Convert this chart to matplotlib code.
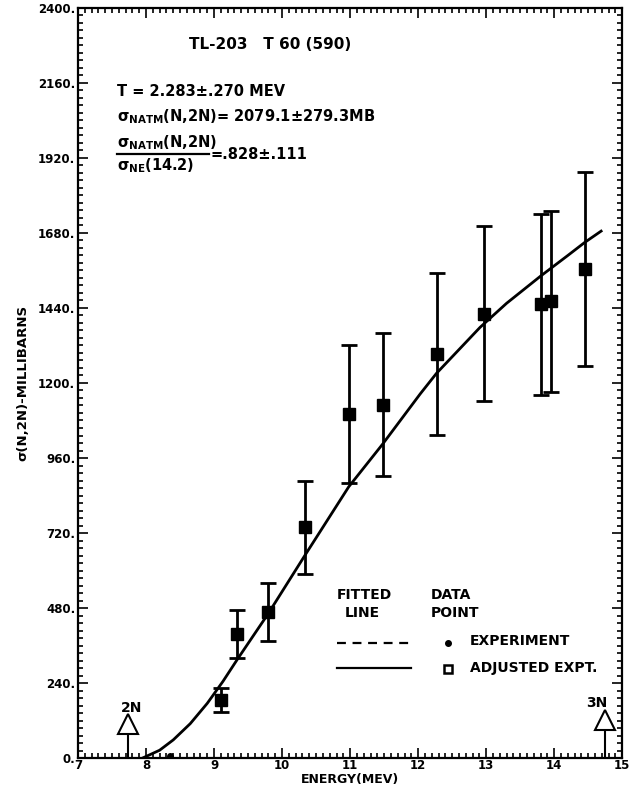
import numpy as np
import matplotlib
matplotlib.use("Agg")
import matplotlib.pyplot as plt
from matplotlib.ticker import MultipleLocator, FixedLocator
from matplotlib.lines import Line2D

plt.rcParams["font.family"] = ["DejaVu Sans"]
plt.rcParams["font.weight"] = "bold"
plt.rcParams["axes.labelweight"] = "bold"
plt.rcParams["mathtext.fontset"] = "dejavusans"
plt.rcParams["mathtext.default"] = "bf"

# ---- data ----
exp_energy = [9.10, 9.34, 9.79, 10.34, 10.98, 11.48, 12.27, 12.97, 13.80, 13.96, 14.45]
exp_sigma = [186, 397, 468, 738, 1101, 1130, 1293, 1421, 1452, 1461, 1565]
exp_err = [38, 77, 93, 150, 222, 229, 258, 280, 290, 290, 310]

fit_energy = [7.95, 8.2, 8.4, 8.65, 8.9, 9.13, 9.34, 9.79, 10.34, 10.98, 11.48,
              12.03, 12.27, 12.91, 13.3, 13.8, 14.2, 14.45, 14.69]
fit_sigma = [0, 25, 58, 110, 175, 245, 315, 460, 650, 868, 1005,
             1165, 1231, 1378, 1455, 1542, 1608, 1650, 1686]

thresh_energy = [7.73, 14.75]
thresh_label = ["2N", "3N"]
thresh_top = [128, 143]

y_ticks = [0, 240, 480, 720, 960, 1200, 1440, 1680, 1920, 2160, 2400]
x_ticks = [7, 8, 9, 10, 11, 12, 13, 14, 15]

# ---- figure ----
fig = plt.figure(figsize=(6.41, 7.96), dpi=100)
ax = fig.add_axes([0.1217, 0.0477, 0.849, 0.9423])
ax.set_xlim(7, 15)
ax.set_ylim(0, 2400)

# fitted line
ax.plot(fit_energy, fit_sigma, color="black", lw=2)

# experiment points
ax.errorbar(exp_energy, exp_sigma, yerr=exp_err, fmt="s", color="black",
            ms=8, elinewidth=2, capsize=6, capthick=2)
ax.plot([8.35], [8], marker="o", color="black", ms=4)

# threshold arrows
for e, lab, top in zip(thresh_energy, thresh_label, thresh_top):
    ax.plot([e, e], [0, top - 40], color="black", lw=1.5)
    ax.plot([e], [top - 20], marker="^", ms=14, mfc="white", mec="black", mew=1.5)
    dx = 0.05 if lab == "2N" else -0.12
    ax.text(e + dx, top + 10, lab, fontsize=10, ha="center", va="bottom")

# ticks
ax.xaxis.set_major_locator(FixedLocator(x_ticks))
ax.xaxis.set_minor_locator(MultipleLocator(0.1))
ax.yaxis.set_major_locator(FixedLocator(y_ticks))
ax.yaxis.set_minor_locator(MultipleLocator(24))
ax.set_xticklabels([str(t) for t in x_ticks], fontsize=8.5)
ax.set_yticklabels([f"{t}." for t in y_ticks], fontsize=8.5)
ax.tick_params(which="both", direction="in", top=True, right=True, width=1.2)
ax.tick_params(which="major", length=7, pad=2)
ax.tick_params(axis="x", which="major", pad=1)
ax.tick_params(which="minor", length=3.5)
for s in ax.spines.values():
    s.set_linewidth(1.6)

ax.set_xlabel("ENERGY(MEV)", fontsize=9, labelpad=0.5)
ax.set_ylabel("σ(N,2N)-MILLIBARNS", fontsize=9.5, labelpad=6)

# annotation block
ax.text(9.82, 2282, "TL-203   T 60 (590)", fontsize=11, ha="center", va="center")
ax.text(7.58, 2132, "T = 2.283±.270 MEV", fontsize=10.5, va="center")
ax.text(7.58, 2052, r"$\sigma_{NATM}$(N,2N)= 2079.1±279.3MB", fontsize=10.5, va="center")
ax.text(7.58, 1968, r"$\sigma_{NATM}$(N,2N)", fontsize=10.5, va="center")
ax.text(7.58, 1896, r"$\sigma_{NE}$(14.2)", fontsize=10.5, va="center")
ax.add_line(Line2D([7.58, 8.92], [1934, 1934], color="black", lw=1.6))
ax.text(8.95, 1930, "=.828±.111", fontsize=10.5, va="center")

# legend block
ax.text(10.81, 522, "FITTED", fontsize=10, va="center")
ax.text(10.92, 464, "LINE", fontsize=10, va="center")
ax.text(12.18, 522, "DATA", fontsize=10, va="center")
ax.text(12.18, 464, "POINT", fontsize=10, va="center")
ax.add_line(Line2D([10.81, 11.88], [368, 368], color="black", lw=1.6, ls=(0, (4, 3))))
ax.add_line(Line2D([10.81, 11.9], [288, 288], color="black", lw=1.6))
ax.plot([12.44], [368], marker="o", ms=4, color="black")
ax.plot([12.44], [285], marker="s", ms=6, mfc="white", mec="black", mew=1.8)
ax.text(12.76, 374, "EXPERIMENT", fontsize=10, va="center")
ax.text(12.76, 288, "ADJUSTED EXPT.", fontsize=10, va="center")

fig.savefig("out.png", dpi=100)
